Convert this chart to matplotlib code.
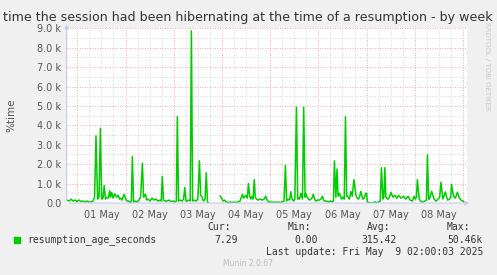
import matplotlib.pyplot as plt
import numpy as np

# hours since 01 May 00:00 and resumption age (seconds)
hours = [-5.1, -4.1, -3.1, -2.1, -1.1, -0.1, 0.8, 1.8, 2.8, 3.8, 4.8, 5.8, 6.8, 7.8, 8.6, 9.3, 10.1, 10.8,
         11.5, 12.1, 12.8, 13.4, 14.0, 14.8, 15.5, 16.1, 16.6, 17.1, 17.8, 18.6, 19.5, 20.4, 21.0, 21.6,
         22.3, 23.3, 24.3, 24.8, 25.5, 26.2, 26.9, 27.4, 28.0, 28.7, 29.7, 30.7, 31.5, 32.4, 33.0, 33.9,
         34.5, 35.2, 36.2, 37.2, 38.2, 39.2, 40.2, 41.2, 41.8, 42.3, 42.9, 43.7, 44.7, 45.7, 46.7, 47.7,
         48.7, 49.3, 49.8, 50.4, 51.2, 52.2, 52.9, 53.5, 54.1, 54.7, 55.4, 56.2, 56.8, 57.4, 58.2, 59.1,
         60.0, 60.8, 61.4, 62.1, 62.8, 63.6, 64.2, 64.8, 65.3, 68.0,
         71.1, 71.8, 72.6, 73.3, 74.1, 75.1, 76.0, 77.0, 78.0, 79.0, 80.0, 81.0, 82.2, 82.8, 83.9, 84.6,
         85.2, 85.8, 86.4, 87.0, 87.5, 88.1, 88.6, 89.2, 90.0, 91.0, 92.0, 93.0, 93.8, 94.5, 95.2, 96.0,
         97.0, 98.0, 98.9, 99.9, 100.9, 101.9, 102.9, 103.6, 104.2, 104.9, 105.7, 106.3, 106.9, 107.7,
         108.3, 109.1, 109.7, 110.1, 110.6, 111.3, 112.1, 112.7, 113.4, 113.7, 114.5, 115.1, 115.8, 116.8,
         117.5, 118.1, 118.7, 119.6, 120.4, 121.3, 122.0, 122.6, 123.2, 124.1, 125.1, 126.1, 127.0, 127.5,
         128.0, 128.7, 129.3, 129.8, 130.5, 131.5, 132.2, 132.9, 133.5, 134.1, 134.5, 135.5, 136.2, 136.9,
         137.7, 138.7, 139.4, 139.9, 140.5, 141.1, 142.1, 142.8, 143.6, 144.0, 144.4, 145.3, 146.3, 147.3,
         148.6, 149.4, 150.0, 150.8, 151.4, 152.1, 152.6, 153.1, 153.6, 154.4, 155.2, 156.1, 157.1, 158.1,
         159.1, 159.9, 161.1, 162.4, 163.5, 164.7, 165.7, 166.8, 167.7, 168.3, 168.8, 169.3, 170.2, 171.3,
         172.3, 173.1, 173.8, 174.3, 174.9, 175.3, 176.4, 177.6, 178.6, 179.6, 180.4, 181.0, 182.0, 183.2,
         184.3, 185.3, 185.9, 186.3, 187.3, 188.2, 189.2, 190.0, 191.0, 191.8, 192.7, 193.2]
values = [150, 100, 200, 100, 150, 80, 150, 80, 100, 50, 100, 50, 50, 100, 300, 3460, 200, 300,
          3850, 200, 250, 900, 200, 300, 250, 630, 300, 550, 250, 470, 300, 400, 200, 250,
          150, 450, 150, 100, 100, 30, 50, 2400, 50, 100, 50, 150, 300, 2050, 300, 450,
          150, 200, 100, 250, 150, 200, 100, 150, 100, 1360, 150, 100, 100, 150, 80, 100,
          50, 100, 4450, 100, 150, 100, 200, 800, 100, 100, 150, 100, 8870, 100, 150, 100,
          200, 2170, 400, 300, 100, 200, 1560, 50, 0, np.nan,
          360, 250, 100, 150, 50, 30, 50, 30, 50, 30, 50, 100, 450, 250, 400, 250,
          1000, 350, 200, 350, 200, 1200, 300, 200, 150, 200, 150, 200, 350, 150, 50, 50,
          30, 50, 30, 50, 30, 50, 100, 1930, 100, 200, 150, 580, 200, 100,
          200, 4940, 200, 250, 200, 500, 200, 4940, 300, 500, 300, 200, 150, 250,
          450, 200, 100, 150, 150, 200, 350, 150, 100, 100, 50, 100, 50, 100,
          2170, 300, 1750, 350, 500, 200, 300, 200, 4450, 350, 350, 200, 600, 350,
          1200, 400, 250, 200, 300, 600, 200, 250, 500, 500, 50, 30, 0, 30,
          50, 0, 50, 100, 1820, 200, 300, 1820, 300, 200, 250, 550, 300, 400,
          250, 400, 250, 350, 200, 350, 150, 100, 350, 200, 300, 1200, 200, 50,
          50, 100, 150, 2480, 200, 200, 600, 200, 100, 200, 300, 1070, 200, 570,
          150, 200, 300, 960, 350, 250, 550, 300, 150, 100, 50, 30]

day_labels = ['01 May', '02 May', '03 May', '04 May', '05 May', '06 May', '07 May', '08 May']
y_ticks = [0, 1000, 2000, 3000, 4000, 5000, 6000, 7000, 8000, 9000]
y_labels = ['0.0', '1.0 k', '2.0 k', '3.0 k', '4.0 k', '5.0 k', '6.0 k', '7.0 k', '8.0 k', '9.0 k']

W, H = 497, 275
fig = plt.figure(figsize=(W / 100, H / 100), dpi=100)
fig.patch.set_facecolor('#F0F0F0')

# plot area in pixels
x0, x1, ytop, ybot = 66.7, 467.0, 28.3, 203.0
ax = fig.add_axes([x0 / W, 1 - ybot / H, (x1 - x0) / W, (ybot - ytop) / H])
ax.set_facecolor('white')

xmin, xmax = -5.28, 194.0
ax.set_xlim(xmin, xmax)
ax.set_ylim(0, 9000)

# grid: minor gray, major red
for h in np.arange(-6, 195, 6):
    if h < xmin or h > xmax:
        continue
    if h % 24 == 0:
        ax.axvline(h, color='#E09090', lw=0.6, ls=(0, (1, 2)), zorder=1)
    else:
        ax.axvline(h, color='#C8C8C8', lw=0.6, ls=(0, (1, 2)), zorder=1)
for v in np.arange(500, 9001, 500):
    if v % 1000 == 0:
        ax.axhline(v, color='#E09090', lw=0.6, ls=(0, (1, 2)), zorder=1)
    else:
        ax.axhline(v, color='#C8C8C8', lw=0.6, ls=(0, (1, 2)), zorder=1)

ax.plot(hours, values, color='#00CC00', lw=1.1, zorder=3)

for s in ax.spines.values():
    s.set_visible(False)
ax.annotate('', xy=(xmax + 2.5, 0), xytext=(xmin, 0),
            arrowprops=dict(arrowstyle='-|>', color='#C8C8F0', lw=0.8, mutation_scale=6),
            annotation_clip=False, zorder=4)
ax.annotate('', xy=(xmin, 9350), xytext=(xmin, 0),
            arrowprops=dict(arrowstyle='-|>', color='#C8C8F0', lw=0.8, mutation_scale=6),
            annotation_clip=False, zorder=4)

ax.set_xticks([12 + 24 * i for i in range(len(day_labels))])
ax.set_xticklabels(day_labels)
ax.set_yticks(y_ticks)
ax.set_yticklabels(y_labels)
ax.tick_params(axis='both', length=0, labelsize=7, colors='#555555', pad=4)
ax.tick_params(axis='x', pad=5)

fig.text(11 / W, 1 - 115 / H, '%time', rotation=90, ha='center', va='center',
         fontsize=7.5, color='#555555')
fig.text(248 / W, 1 - 17 / H,
         'time the session had been hibernating at the time of a resumption - by week',
         ha='center', va='center', fontsize=9.1, color='#333333')
fig.text(487 / W, 1 - 66 / H, 'RRDTOOL / TOBI OETIKER', rotation=270, ha='center',
         va='center', fontsize=5, color='#C8C8C8')

mono = 'DejaVu Sans Mono'
hdr_y = 1 - 227 / H
val_y = 1 - 240 / H
fig.patches.append(plt.Rectangle((14 / W, 1 - 242.5 / H), 5.5 / W, 5.5 / H,
                                 transform=fig.transFigure, color='#00CC00'))
fig.text(27 / W, val_y, 'resumption_age_seconds', family=mono, fontsize=7,
         color='#333333', va='center')
for xr, hdr, val in [(238, 'Cur:', '7.29'), (318, 'Min:', '0.00'),
                     (397, 'Avg:', '315.42'), (483, 'Max:', '50.46k')]:
    fig.text(xr / W, val_y, val, family=mono, fontsize=7, color='#333333',
             ha='right', va='center')
fig.text(231 / W, hdr_y, 'Cur:', family=mono, fontsize=7, color='#333333', ha='right', va='center')
fig.text(311 / W, hdr_y, 'Min:', family=mono, fontsize=7, color='#333333', ha='right', va='center')
fig.text(390 / W, hdr_y, 'Avg:', family=mono, fontsize=7, color='#333333', ha='right', va='center')
fig.text(470 / W, hdr_y, 'Max:', family=mono, fontsize=7, color='#333333', ha='right', va='center')
fig.text(483 / W, 1 - 252 / H, 'Last update: Fri May  9 02:00:03 2025', family=mono,
         fontsize=7, color='#333333', ha='right', va='center')
fig.text(248 / W, 1 - 263 / H, 'Munin 2.0.67', fontsize=5.5, color='#BBBBBB',
         ha='center', va='center')

fig.savefig('out.png', dpi=100, facecolor=fig.get_facecolor())
